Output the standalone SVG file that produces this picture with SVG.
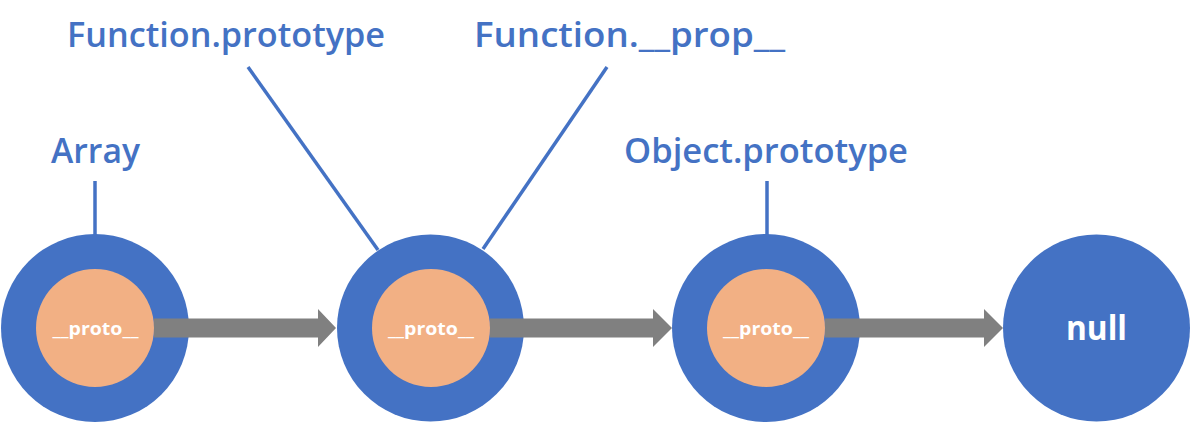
<svg xmlns="http://www.w3.org/2000/svg" width="1192" height="423" viewBox="0 0 1192 423">
<style>
.outer{fill:#4472C4;}
.inner{fill:#F2B084;}
.lbl{font-family:"Open Sans","Liberation Sans",sans-serif;font-weight:600;font-size:34px;fill:#4472C4;}
.proto{font-family:"Open Sans","Liberation Sans",sans-serif;font-weight:700;font-size:17px;fill:#FFFFFF;text-anchor:middle;}
.null{font-family:"Open Sans","Liberation Sans",sans-serif;font-weight:700;font-size:34px;fill:#FFFFFF;text-anchor:middle;}
.lead{stroke:#4472C4;stroke-width:3.5;fill:none;}
.arr{fill:#808080;}
</style>
<rect width="1192" height="423" fill="#FFFFFF"/>
<g id="array">
<circle class="outer" cx="95" cy="328" r="94"/>
<circle class="inner" cx="95" cy="328" r="59"/>
<text class="proto" x="95.5" y="335" textLength="86" lengthAdjust="spacingAndGlyphs">__proto__</text>
<text class="lbl" x="51" y="163" textLength="89" lengthAdjust="spacingAndGlyphs">Array</text>
<line class="lead" x1="95" y1="181" x2="95" y2="235"/>
</g>
<g id="function-prototype">
<circle class="outer" cx="430.5" cy="328" r="93.5"/>
<circle class="inner" cx="431" cy="328" r="59"/>
<text class="proto" x="431" y="335" textLength="86" lengthAdjust="spacingAndGlyphs">__proto__</text>
<text class="lbl" x="67" y="47" textLength="318" lengthAdjust="spacingAndGlyphs">Function.prototype</text>
<text class="lbl" x="474" y="47" textLength="311" lengthAdjust="spacingAndGlyphs">Function.__prop__</text>
<line class="lead" x1="248" y1="67" x2="378" y2="250"/>
<line class="lead" x1="607" y1="67" x2="483" y2="249"/>
</g>
<g id="object-prototype">
<circle class="outer" cx="766" cy="328" r="94"/>
<circle class="inner" cx="766" cy="328" r="59"/>
<text class="proto" x="766" y="335" textLength="86" lengthAdjust="spacingAndGlyphs">__proto__</text>
<text class="lbl" x="624" y="163" textLength="284" lengthAdjust="spacingAndGlyphs">Object.prototype</text>
<line class="lead" x1="767" y1="181" x2="767" y2="235"/>
</g>
<g id="null">
<circle class="outer" cx="1096.5" cy="328" r="93.5"/>
<text class="null" x="1096.5" y="340" textLength="61" lengthAdjust="spacingAndGlyphs">null</text>
</g>
<g id="connectors">
<polygon class="arr" points="154,318.5 318,318.5 318,309 336,328 318,347 318,337.5 154,337.5"/>
<polygon class="arr" points="490,318.5 653,318.5 653,309 672,328 653,347 653,337.5 490,337.5"/>
<polygon class="arr" points="825,318.5 984,318.5 984,309 1003,328 984,347 984,337.5 825,337.5"/>
</g>
</svg>
